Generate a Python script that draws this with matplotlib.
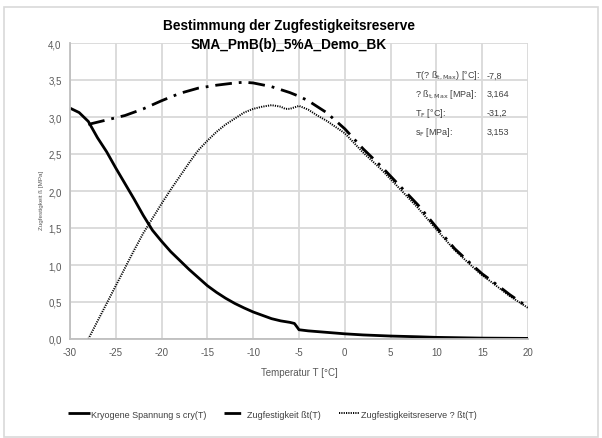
import matplotlib
matplotlib.use('Agg')
import matplotlib.pyplot as plt
from matplotlib.patches import Rectangle

plt.rcParams['font.family'] = ['Liberation Sans Narrow', 'Liberation Sans', 'DejaVu Sans']
plt.rcParams['mathtext.fontset'] = 'custom'
plt.rcParams['mathtext.rm'] = 'Liberation Sans Narrow'
plt.rcParams['mathtext.it'] = 'Liberation Sans Narrow'
plt.rcParams['axes.unicode_minus'] = False

# Kryogene Spannung s cry(T)
t_cry = [-30, -29, -28.5, -28, -27, -26, -25, -24, -23, -22, -21, -20, -19, -18,
         -17, -16, -15, -14, -13, -12, -11, -10, -9, -8, -7, -6.5, -6, -5.5,
         -5.2, -5, -4, -3, -2, 0, 2, 5, 8, 10, 15, 20]
s_cry = [3.12, 3.06, 3.0, 2.94, 2.72, 2.53, 2.31, 2.10, 1.89, 1.67, 1.47, 1.32,
         1.18, 1.06, 0.94, 0.83, 0.72, 0.63, 0.55, 0.48, 0.42, 0.365, 0.32, 0.275,
         0.245, 0.235, 0.225, 0.21, 0.16, 0.125, 0.11, 0.10, 0.09, 0.07, 0.055,
         0.04, 0.03, 0.022, 0.012, 0.008]

# Zugfestigkeit ßt(T)
t_zf = [-28, -26, -24, -22, -20, -18, -16, -14, -12, -11, -10, -8, -6, -5, -4,
        -2, 0, 2, 4, 5, 6, 8, 10, 12, 14, 15, 16, 18, 20]
s_zf = [2.90, 2.96, 3.02, 3.11, 3.22, 3.32, 3.39, 3.43, 3.46, 3.47, 3.46, 3.41,
        3.33, 3.28, 3.22, 3.06, 2.84, 2.57, 2.33, 2.20, 2.07, 1.81, 1.51, 1.22,
        0.99, 0.88, 0.79, 0.60, 0.43]

# Zugfestigkeitsreserve ? ßt(T)
t_res = [-28, -27, -26, -25, -24, -23, -22, -21, -20, -19, -18, -17, -16, -15,
         -14, -13, -12, -11, -10, -9, -8, -7, -6.5, -6, -5, -4, -3, -2, 0, 2,
         4, 5, 6, 8, 10, 12, 14, 15, 16, 18, 20]
s_res = [0.0, 0.24, 0.48, 0.72, 0.96, 1.20, 1.43, 1.63, 1.83, 2.02, 2.20, 2.38,
         2.55, 2.68, 2.80, 2.90, 2.98, 3.06, 3.11, 3.14, 3.16, 3.14, 3.11, 3.11,
         3.15, 3.10, 3.02, 2.95, 2.78, 2.52, 2.29, 2.16, 2.03, 1.77, 1.48, 1.20,
         0.97, 0.86, 0.77, 0.58, 0.42]

x_ticks = list(range(-30, 21, 5))
y_ticks = [0.0, 0.5, 1.0, 1.5, 2.0, 2.5, 3.0, 3.5, 4.0]

info_labels = [r'T(? ß$_{\mathrm{t,Max}}$) [°C]:', r'? ß$_{\mathrm{t,Max}}$ [MPa]:',
               r'T$_{\mathrm{F}}$ [°C]:', r's$_{\mathrm{F}}$ [MPa]:']
info_values = ['-7,8', '3,164', '-31,2', '3,153']

W, H = 602, 439
fig = plt.figure(figsize=(W / 100, H / 100), dpi=100)
fig.patches.append(Rectangle((4 / W, 1 / H), 594 / W, 430 / H, transform=fig.transFigure,
                             fill=False, edgecolor='#d9d9d9', linewidth=1.2))

ax = fig.add_axes([70 / W, 1 - 340 / H, 458 / W, 296 / H])
ax.plot(t_cry, s_cry, color='black', lw=2.0, solid_capstyle='butt',
        label='Kryogene Spannung s cry(T)')
ax.plot(t_zf, s_zf, color='black', lw=2.0, dashes=(6, 2.5, 1, 2.5),
        label='Zugfestigkeit ßt(T)')
ax.plot(t_res, s_res, color='black', lw=1.4, dashes=(0.6, 0.6),
        label='Zugfestigkeitsreserve ? ßt(T)')

ax.set_xlim(-30, 20)
ax.set_ylim(0, 4)
ax.set_xticks(x_ticks)
ax.set_yticks(y_ticks)
ax.set_yticklabels([f'{v:.1f}'.replace('.', ',') for v in y_ticks])
ax.grid(True, color='#d9d9d9', lw=1.3)
ax.set_axisbelow(True)
for s in ['top', 'right']:
    ax.spines[s].set_visible(False)
for s in ['left', 'bottom']:
    ax.spines[s].set_color('#bfbfbf')
    ax.spines[s].set_linewidth(1.3)
ax.tick_params(length=0, labelsize=7, labelcolor='#595959', pad=6)
ax.set_xlabel('Temperatur T [°C]', fontsize=7, color='#595959', labelpad=7)

fig.text(41 / W, 1 - 200 / H, 'Zugfestigkeit ß [MPa]', rotation=90, fontsize=4.5,
         color='#595959', ha='center', va='center')

fig.text(289 / W, 1 - 26 / H, 'Bestimmung der Zugfestigkeitsreserve',
         fontsize=9.8, fontweight='bold', ha='center', va='center', color='black')
fig.text(289 / W, 1 - 45 / H, 'SMA_PmB(b)_5%A_Demo_BK',
         fontsize=9.8, fontweight='bold', ha='center', va='center', color='black')

for i, (lab, val) in enumerate(zip(info_labels, info_values)):
    y = 1 - (76 + i * 18.7) / H
    fig.text(415 / W, y, lab, fontsize=6.5, color='#404040', va='center')
    fig.text(487 / W, y, val, fontsize=6.5, color='#404040', va='center')

fig.legend(loc='center left', bbox_to_anchor=(60 / W, 1 - 415 / H), ncol=3, frameon=False,
           fontsize=6.5, handlelength=2.4, handletextpad=0.1, columnspacing=2.0,
           labelcolor='#404040')

fig.savefig('out.png', dpi=100)
